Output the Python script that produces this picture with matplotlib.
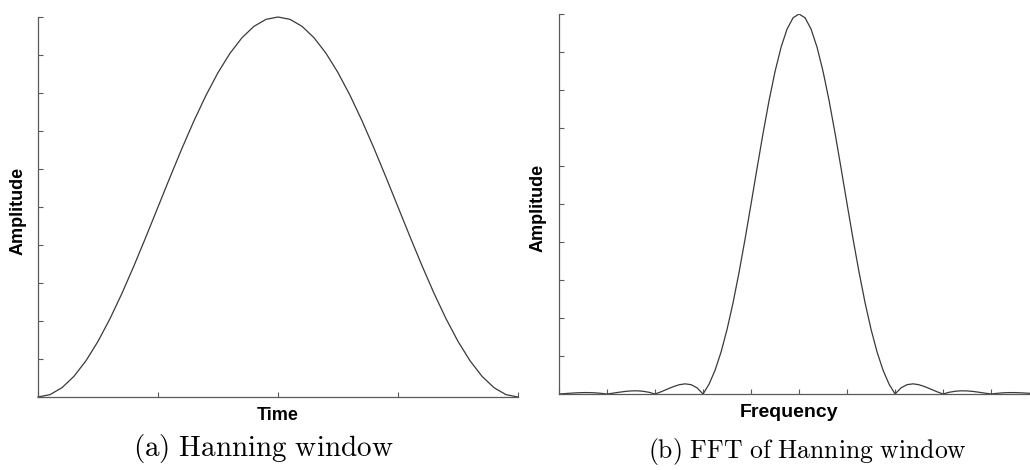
import numpy as np
import matplotlib
matplotlib.use('Agg')
import matplotlib.pyplot as plt

# Hanning window samples (time normalised to 0..1)
time_pts = [0.0, 0.025, 0.05, 0.075, 0.1, 0.125, 0.15, 0.175, 0.2, 0.225, 0.25,
            0.275, 0.3, 0.325, 0.35, 0.375, 0.4, 0.425, 0.45, 0.475, 0.5,
            0.525, 0.55, 0.575, 0.6, 0.625, 0.65, 0.675, 0.7, 0.725, 0.75,
            0.775, 0.8, 0.825, 0.85, 0.875, 0.9, 0.925, 0.95, 0.975, 1.0]
window_amp = [0.0, 0.0062, 0.0245, 0.0545, 0.0955, 0.1464, 0.2061, 0.2730, 0.3455, 0.4218, 0.5,
              0.5782, 0.6545, 0.7270, 0.7939, 0.8536, 0.9045, 0.9455, 0.9755, 0.9938, 1.0,
              0.9938, 0.9755, 0.9455, 0.9045, 0.8536, 0.7939, 0.7270, 0.6545, 0.5782, 0.5,
              0.4218, 0.3455, 0.2730, 0.2061, 0.1464, 0.0955, 0.0545, 0.0245, 0.0062, 0.0]

# magnitude of the spectrum, one side (frequency in bins from the centre)
freq_half = [0.0, 0.125, 0.25, 0.375, 0.5, 0.625, 0.75, 0.875, 1.0,
             1.125, 1.25, 1.375, 1.5, 1.625, 1.75, 1.875, 2.0,
             2.125, 2.25, 2.375, 2.5, 2.625, 2.75, 2.875, 3.0,
             3.125, 3.25, 3.375, 3.5, 3.625, 3.75, 3.875, 4.0,
             4.125, 4.25, 4.375, 4.5, 4.625, 4.75, 4.875, 5.0]
fft_half = [1.0, 0.9900, 0.9603, 0.9125, 0.8488, 0.7722, 0.6860, 0.5940, 0.5,
            0.4076, 0.3201, 0.2401, 0.1698, 0.1103, 0.0624, 0.0258, 0.0,
            0.0163, 0.0246, 0.0267, 0.0243, 0.0190, 0.0125, 0.0058, 0.0,
            0.0045, 0.0072, 0.0084, 0.0081, 0.0067, 0.0046, 0.0022, 0.0,
            0.0018, 0.0031, 0.0037, 0.0037, 0.0031, 0.0022, 0.0011, 0.0]

# mirror to get both sides of the spectrum
freq = np.concatenate([-np.array(freq_half[:0:-1]), freq_half])
fft_mag = np.concatenate([np.array(fft_half[:0:-1]), fft_half])

plt.rcParams['mathtext.fontset'] = 'cm'

line_col = '#3a3a3a'
axis_col = '#5a5a5a'
label_font = dict(fontsize=13, fontweight='bold', family='Liberation Sans')
W, H = 1030, 470


def style_axes(ax):
    for side in ['top', 'right']:
        ax.spines[side].set_visible(False)
    for side in ['left', 'bottom']:
        ax.spines[side].set_color(axis_col)
        ax.spines[side].set_linewidth(0.9)
    ax.tick_params(direction='in', length=3.5, width=0.8, color=axis_col,
                   labelleft=False, labelbottom=False)
    ax.set_ylim(0, 1)
    ax.set_yticks(np.linspace(0, 1, 11))


fig = plt.figure(figsize=(W / 100, H / 100), dpi=100)

# (a) window in time
ax1 = fig.add_axes([38 / W, 1 - 397 / H, 480 / W, 380 / H])
ax1.plot(time_pts, window_amp, color=line_col, lw=0.9, clip_on=False)
style_axes(ax1)
ax1.set_xlim(0, 1)
ax1.set_xticks([0, 0.25, 0.5, 0.75, 1.0])
ax1.set_xlabel('Time', **label_font)
ax1.xaxis.set_label_coords(0.5, -0.026)
ax1.set_ylabel('Amplitude', va='center', **label_font)
ax1.yaxis.set_label_coords(-20 / 480, 0.49)

# (b) its spectrum
ax2 = fig.add_axes([559 / W, 1 - 394 / H, 471 / W, 380 / H])
ax2.plot(freq, fft_mag, color=line_col, lw=0.9)
style_axes(ax2)
ax2.set_xlim(-5, 4.81)
ax2.set_xticks(np.arange(-5, 5))
ax2.set_xlabel('Frequency', fontsize=14, fontweight='bold', family='Liberation Sans')
ax2.xaxis.set_label_coords(230 / 471, -0.026)
ax2.set_ylabel('Amplitude', va='center', **label_font)
ax2.yaxis.set_label_coords(-21 / 471, 0.49)

fig.text(263.5 / W, 1 - 456 / H, r'$\mathrm{(a)\ Hanning\ window}$', fontsize=21,
         ha='center', va='baseline')
fig.text(807 / W, 1 - 458 / H, r'$\mathrm{(b)\ FFT\ of\ Hanning\ window}$', fontsize=18.5,
         ha='center', va='baseline')

fig.savefig('out.png', dpi=100)
